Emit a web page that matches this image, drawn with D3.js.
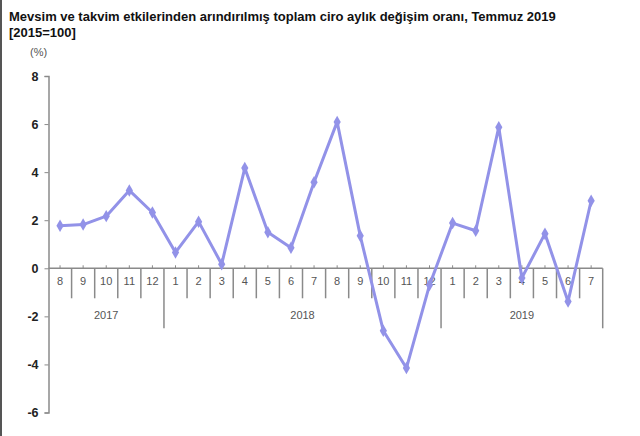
<!DOCTYPE html>
<html><head><meta charset="utf-8">
<script src="https://cdn.jsdelivr.net/npm/d3@7"></script>
<style>body{margin:0;background:#fff}svg{display:block}</style>
</head><body>
<svg id="c" width="640" height="436"></svg>
<script>
const titleLines = ["Mevsim ve takvim etkilerinden arındırılmış toplam ciro aylık değişim oranı, Temmuz 2019", "[2015=100]"];
const unitLabel = "(%)";
const months = ["8","9","10","11","12","1","2","3","4","5","6","7","8","9","10","11","12","1","2","3","4","5","6","7"];
const years = ["2017","2017","2017","2017","2017","2018","2018","2018","2018","2018","2018","2018","2018","2018","2018","2018","2018","2019","2019","2019","2019","2019","2019","2019"];
const values = [1.77,1.82,2.17,3.24,2.32,0.66,1.94,0.17,4.17,1.5,0.85,3.58,6.09,1.35,-2.6,-4.15,-0.7,1.88,1.56,5.87,-0.4,1.44,-1.38,2.81];
const yTicks = [-6,-4,-2,0,2,4,6,8];

const svg = d3.select("#c");
const font = "Arial, 'Liberation Sans', sans-serif";
svg.append("rect").attr("x",0).attr("y",0).attr("width",2).attr("height",436).attr("fill","#555");

const t = svg.append("text").attr("font-family",font).attr("font-weight","bold").attr("font-size",13).attr("fill","#111");
titleLines.forEach((l,i)=>t.append("tspan").attr("x",9).attr("y",21+i*16).text(l));
svg.append("text").attr("x",30).attr("y",56).attr("font-family",font).attr("font-size",11).attr("fill","#555").text(unitLabel);

const idx = months.map((m,i)=>i);
const x = d3.scaleBand().domain(idx).range([48.5,602.7]);
const y = d3.scaleLinear().domain([-6,8]).range([412.5,76]);
const grey = "#8a8a8a";

// y axis
const ya = svg.append("g").attr("transform","translate(48.5,0)")
  .call(d3.axisLeft(y).tickValues(yTicks).tickSize(4).tickPadding(6).tickFormat(d=>String(d)));
ya.select(".domain").attr("stroke",grey).attr("stroke-width",1.5);
ya.selectAll(".tick line").attr("stroke",grey);
ya.selectAll("text").attr("font-family",font).attr("font-size",12.5).attr("font-weight","bold").attr("fill","#222");

// x axis
const y0 = y(0);
const xa = svg.append("g").attr("transform",`translate(0,${y0})`)
  .call(d3.axisBottom(x).tickSize(-3).tickPadding(10).tickFormat(i=>months[i]));
xa.select(".domain").attr("stroke",grey).attr("stroke-width",1.5).attr("d",`M48.5,0H602.7`);
xa.selectAll(".tick line").attr("stroke",grey);
xa.selectAll("text").attr("font-family",font).attr("font-size",11).attr("fill","#555").attr("dy","0.6em");

// separators
const bounds = idx.slice(1).map(i=>x(i)).concat([602.7]);
bounds.forEach((bx,k)=>{
  const i = k+1;
  const isYear = i===months.length || years[i]!==years[i-1];
  svg.append("line").attr("x1",bx).attr("x2",bx).attr("y1",y0).attr("y2",y0+(isYear?60:30))
    .attr("stroke",grey).attr("stroke-width",1.5);
});
// year labels
const yearGroups = d3.groups(idx,i=>years[i]);
yearGroups.forEach(([yr,arr])=>{
  const cx = (x(arr[0]) + x(arr[arr.length-1]) + x.bandwidth())/2;
  svg.append("text").attr("x",cx).attr("y",y0+51).attr("text-anchor","middle")
    .attr("font-family",font).attr("font-size",11).attr("fill","#555").text(yr);
});

// line
const col = "#9292e8";
const line = d3.line().x((d,i)=>x(i)+x.bandwidth()/2).y(d=>y(d));
svg.append("path").datum(values).attr("d",line).attr("fill","none").attr("stroke",col).attr("stroke-width",3).attr("stroke-linejoin","round");
svg.append("g").selectAll("path").data(values).join("path")
  .attr("transform",(d,i)=>`translate(${x(i)+x.bandwidth()/2},${y(d)})`)
  .attr("d",d3.symbol(d3.symbolDiamond,45)).attr("fill",col);
</script>
</body></html>
